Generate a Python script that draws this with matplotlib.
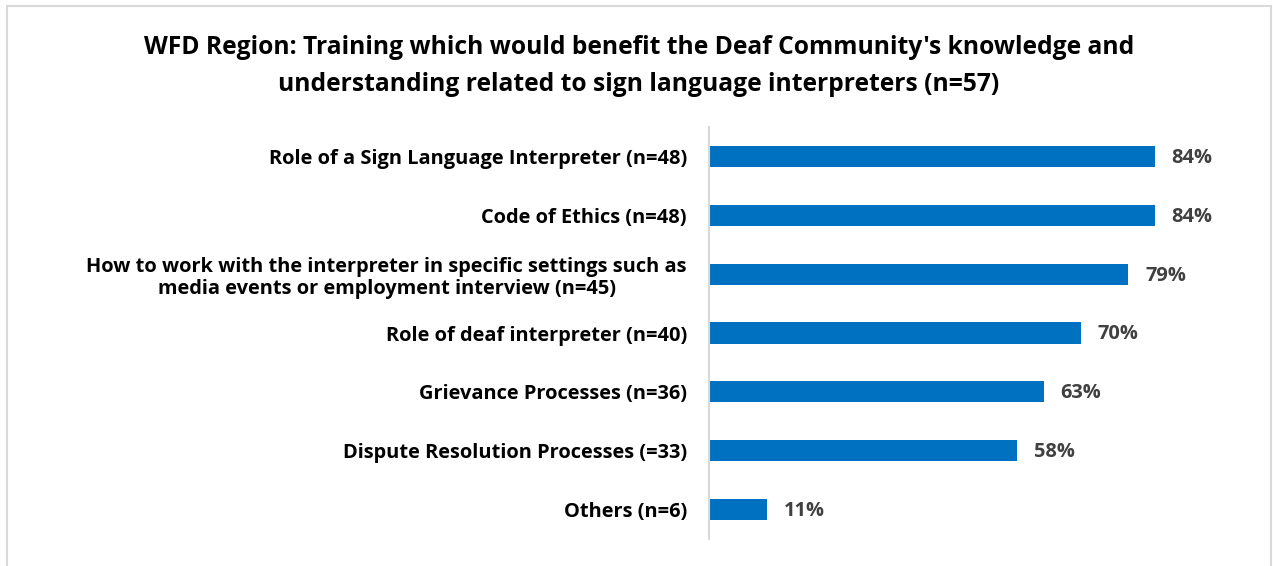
import matplotlib
matplotlib.use("Agg")
import matplotlib.pyplot as plt
from matplotlib.patches import Rectangle

categories = [
    "Role of a Sign Language Interpreter (n=48)",
    "Code of Ethics (n=48)",
    "How to work with the interpreter in specific settings such as\nmedia events or employment interview (n=45)",
    "Role of deaf interpreter (n=40)",
    "Grievance Processes (n=36)",
    "Dispute Resolution Processes (=33)",
    "Others (n=6)",
]
percent = [84, 84, 79, 70, 63, 58, 11]
title = ("WFD Region: Training which would benefit the Deaf Community's knowledge and\n"
         "understanding related to sign language interpreters (n=57)")

BAR = "#0070C0"
plt.rcParams["font.family"] = ["Open Sans", "DejaVu Sans"]

fig = plt.figure(figsize=(12.73, 5.66), dpi=100)
fig.patch.set_facecolor("white")

# light chart-area frame (open at the bottom)
fig.add_artist(Rectangle((7 / 1273, -0.1), 1264 / 1273, 1.1 - 6 / 566,
                         transform=fig.transFigure, fill=False,
                         edgecolor="#D9D9D9", lw=1.5))

fig.text(0.502, 0.883, title, ha="center", va="center", fontsize=17.7,
         fontweight="bold", color="black", linespacing=1.62)

ax = fig.add_axes([709 / 1273, 27 / 566, 531 / 1273, 412 / 566])
y = list(range(len(categories)))
ax.barh(y, percent, height=0.36, color=BAR)
ax.set_xlim(0, 100)
ax.set_ylim(len(categories) - 0.5, -0.5)
ax.set_yticks(y)
ax.set_yticklabels(categories, fontsize=14.4, fontweight="bold", color="black",
                   linespacing=1.15)
for lbl in ax.get_yticklabels():
    lbl.set_multialignment("center")
ax.tick_params(axis="y", length=0, pad=16)
ax.set_xticks([])
for side in ["top", "right", "bottom"]:
    ax.spines[side].set_visible(False)
ax.spines["left"].set_color("#D9D9D9")
ax.spines["left"].set_linewidth(1.5)

for yi, v in zip(y, percent):
    ax.annotate(f"{v}%", (v, yi), xytext=(12, -1), textcoords="offset points",
                ha="left", va="center", fontsize=14.4, fontweight="bold",
                color="#404040")

fig.savefig("out.png", dpi=100, facecolor="white")
